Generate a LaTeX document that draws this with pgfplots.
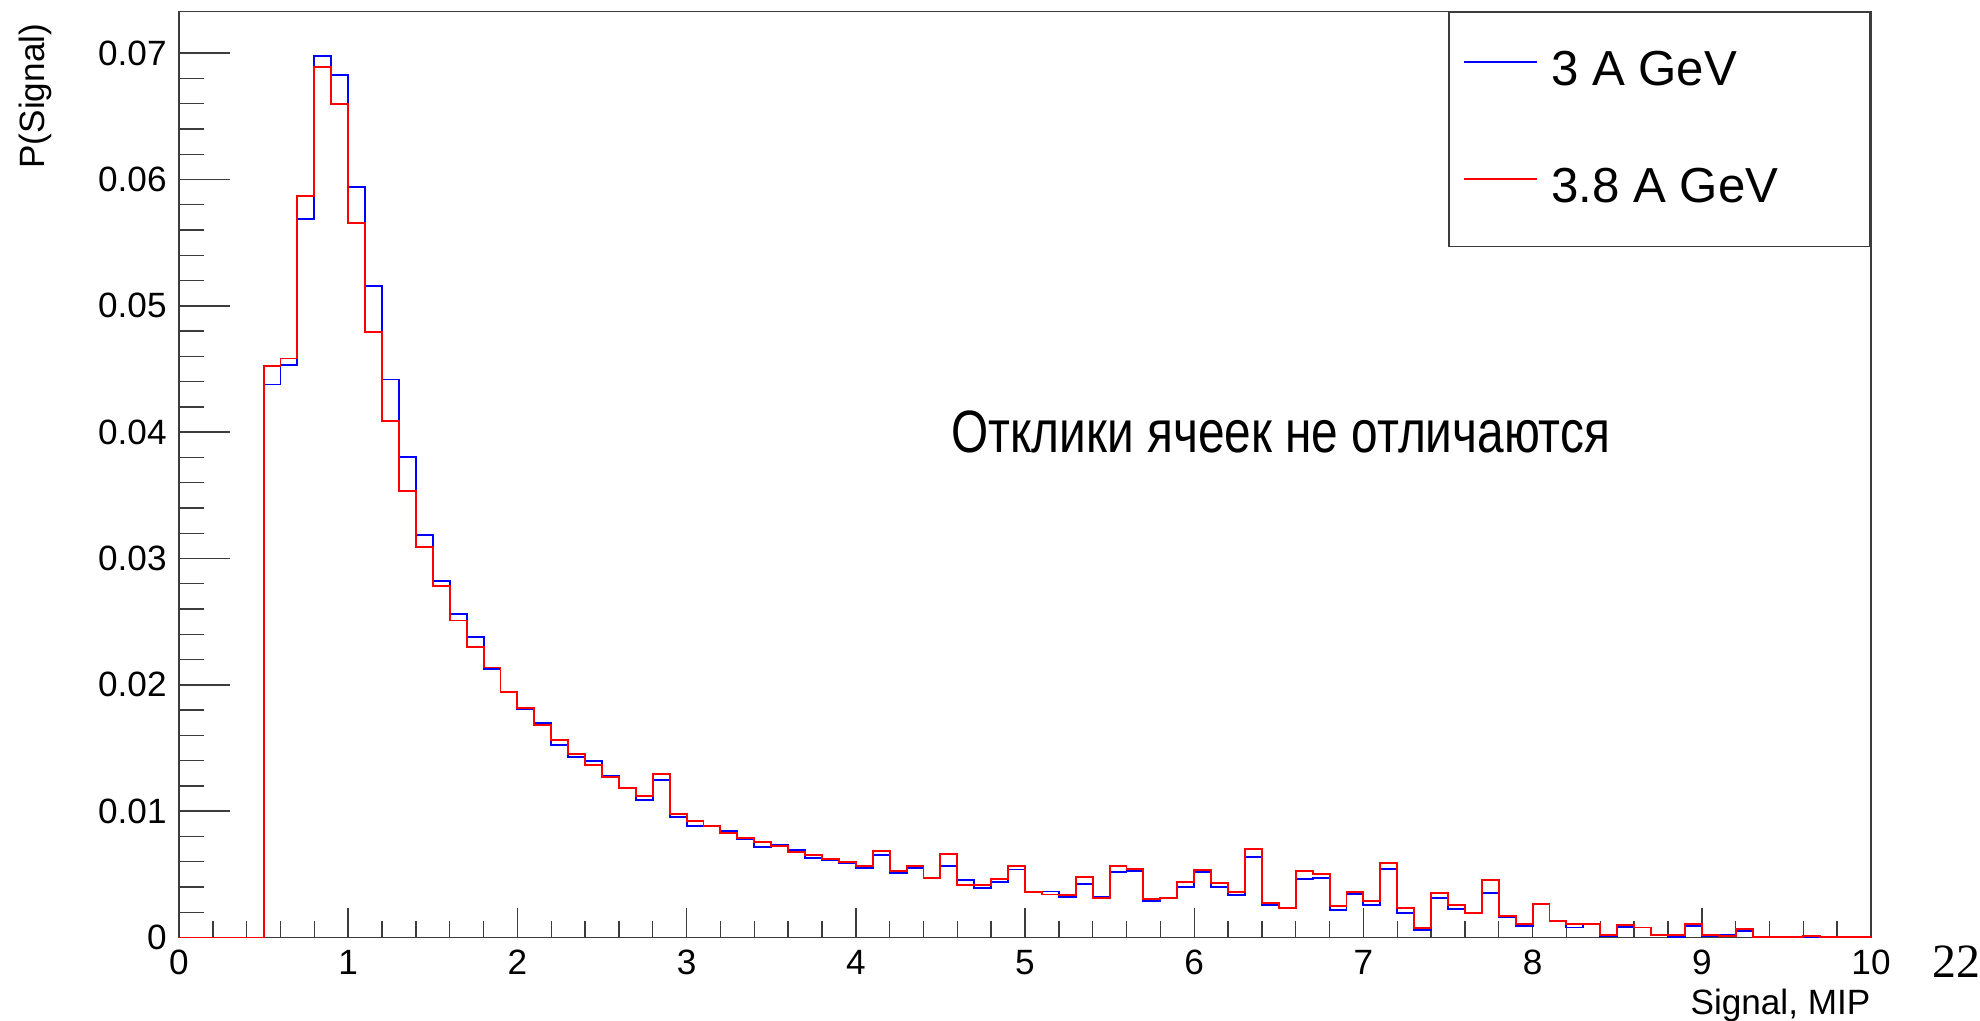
\documentclass[border=0pt]{standalone}
\usepackage{pgfplots}
\usepackage{pgfplotstable}
\usepackage{fontspec}
\pgfplotsset{compat=1.18}
\setmainfont{Liberation Sans}
\newfontfamily\seriffont{Liberation Serif}
\definecolor{rblue}{RGB}{0,0,255}
\definecolor{rred}{RGB}{255,0,0}
\definecolor{frame}{RGB}{60,60,60}

\pgfplotstableread{
x b r
0.0 0 0
0.1 0 0
0.2 0 0
0.3 0 0
0.4 0 0
0.5 0.04377 0.04522
0.6 0.04535 0.04583
0.7 0.05686 0.05866
0.8 0.06975 0.06893
0.9 0.06830 0.06600
1.0 0.05940 0.05655
1.1 0.05160 0.04790
1.2 0.04417 0.04092
1.3 0.03800 0.03536
1.4 0.03188 0.03093
1.5 0.02820 0.02783
1.6 0.02560 0.02509
1.7 0.02379 0.02297
1.8 0.02124 0.02137
1.9 0.01945 0.01940
2.0 0.01808 0.01813
2.1 0.01697 0.01679
2.2 0.01520 0.01562
2.3 0.01428 0.01449
2.4 0.01394 0.01362
2.5 0.01278 0.01273
2.6 0.01183 0.01183
2.7 0.01088 0.01120
2.8 0.01249 0.01294
2.9 0.00954 0.00975
3.0 0.00880 0.00923
3.1 0.00880 0.00880
3.2 0.00840 0.00830
3.3 0.00780 0.00788
3.4 0.00714 0.00754
3.5 0.00733 0.00725
3.6 0.00690 0.00680
3.7 0.00630 0.00656
3.8 0.00611 0.00619
3.9 0.00590 0.00595
4.0 0.00548 0.00567
4.1 0.00651 0.00682
4.2 0.00514 0.00524
4.3 0.00548 0.00564
4.4 0.00472 0.00472
4.5 0.00567 0.00659
4.6 0.00453 0.00419
4.7 0.00390 0.00419
4.8 0.00437 0.00464
4.9 0.00538 0.00567
5.0 0.00364 0.00359
5.1 0.00364 0.00340
5.2 0.00319 0.00335
5.3 0.00422 0.00480
5.4 0.00321 0.00313
5.5 0.00517 0.00564
5.6 0.00524 0.00545
5.7 0.00287 0.00306
5.8 0.00316 0.00316
5.9 0.00400 0.00440
6.0 0.00517 0.00535
6.1 0.00400 0.00429
6.2 0.00337 0.00358
6.3 0.00640 0.00701
6.4 0.00256 0.00272
6.5 0.00232 0.00232
6.6 0.00464 0.00524
6.7 0.00474 0.00503
6.8 0.00221 0.00250
6.9 0.00345 0.00362
7.0 0.00260 0.00290
7.1 0.00540 0.00591
7.2 0.00193 0.00235
7.3 0.00058 0.00077
7.4 0.00309 0.00353
7.5 0.00227 0.00256
7.6 0.00195 0.00195
7.7 0.00353 0.00456
7.8 0.00164 0.00171
7.9 0.00090 0.00108
8.0 0.00261 0.00266
8.1 0.00132 0.00132
8.2 0.00079 0.00108
8.3 0.00108 0.00108
8.4 0.00012 0.00016
8.5 0.00082 0.00100
8.6 0.00079 0.00079
8.7 0.00016 0.00016
8.8 0.00005 0.00016
8.9 0.00092 0.00108
9.0 0.00008 0.00016
9.1 0.00016 0.00008
9.2 0.00050 0.00069
9.3 0.00005 0.00005
9.4 0.00005 0.00005
9.5 0.00005 0.00005
9.6 0.00005 0.00013
9.7 0.00005 0.00005
9.8 0.00005 0.00005
9.9 0.00005 0.00005
10.0 0.00005 0.00005
}\histdata

\begin{document}
\begin{tikzpicture}
\pgfplotsset{
  common/.style={
    scale only axis,
    width=16.92cm, height=9.26cm,
    xmin=0, xmax=10, ymin=0, ymax=0.0733,
    tick pos=left,
    tick align=inside,
    axis line style={draw=frame, line width=0.45pt},
    every tick/.style={draw=frame, line width=0.4pt},
    ticklabel style={font=\fontsize{10}{12}\selectfont},
    /pgf/number format/assume math mode=true,
    scaled ticks=false,
  }
}
% axis for y ticks
\begin{axis}[common,
  xtick=\empty,
  ytick={0,0.01,0.02,0.03,0.04,0.05,0.06,0.07},
  yticklabels={0,0.01,0.02,0.03,0.04,0.05,0.06,0.07},
  minor y tick num=4,
  major tick length=0.51cm,
  minor tick length=0.25cm,
]
\end{axis}
% main axis
\begin{axis}[common,
  name=ax,
  ytick=\empty,
  xtick={0,1,2,3,4,5,6,7,8,9,10},
  xticklabels={0,1,2,3,4,5,6,7,8,9,10},
  minor x tick num=4,
  major tick length=0.29cm,
  minor tick length=0.16cm,
  xlabel={Signal, MIP},
  xlabel style={at={(axis description cs:1,-0.083)}, anchor=base east, inner sep=0pt, font=\fontsize{10}{12}\selectfont},
  ylabel={P(Signal)},
  ylabel style={at={(axis description cs:-0.085,1)}, anchor=east, font=\fontsize{10}{12}\selectfont},
  legend style={at={(1,1)}, anchor=north east, draw=frame, line width=0.45pt, fill=white,
    font=\fontsize{14}{16}\selectfont, inner xsep=0.14cm, inner ysep=0.39cm, row sep=0.77cm,
    nodes={inner sep=0pt}, cells={anchor=west}},
  legend image code/.code={\draw[#1] (0cm,0.09cm) -- (0.73cm,0.09cm);},
]
\addplot[const plot mark left, no marks, draw=rblue, line width=0.55pt] table[x=x, y=b] {\histdata};
\addlegendentry{\makebox[3.18cm][l]{\hspace*{0.13cm}3 A GeV}}
\addplot[const plot mark left, no marks, draw=rred, line width=0.55pt] table[x=x, y=r] {\histdata};
\addlegendentry{\makebox[3.18cm][l]{\hspace*{0.13cm}3.8 A GeV}}
\node[anchor=west, inner sep=0pt] at (axis cs:4.56,0.0400) {\scalebox{0.80}[1]{\fontsize{17}{19}\selectfont Отклики ячеек не отличаются}};
\end{axis}
\node[anchor=base west, inner sep=0pt, font=\seriffont\fontsize{13.6}{15}\selectfont] at ([shift={(0.61cm,-0.405cm)}]ax.south east) {22};
\pgfresetboundingbox
\useasboundingbox ([shift={(-1.79cm,-0.835cm)}]ax.south west) rectangle ([shift={(1.09cm,0.115cm)}]ax.north east);
\end{tikzpicture}
\end{document}
